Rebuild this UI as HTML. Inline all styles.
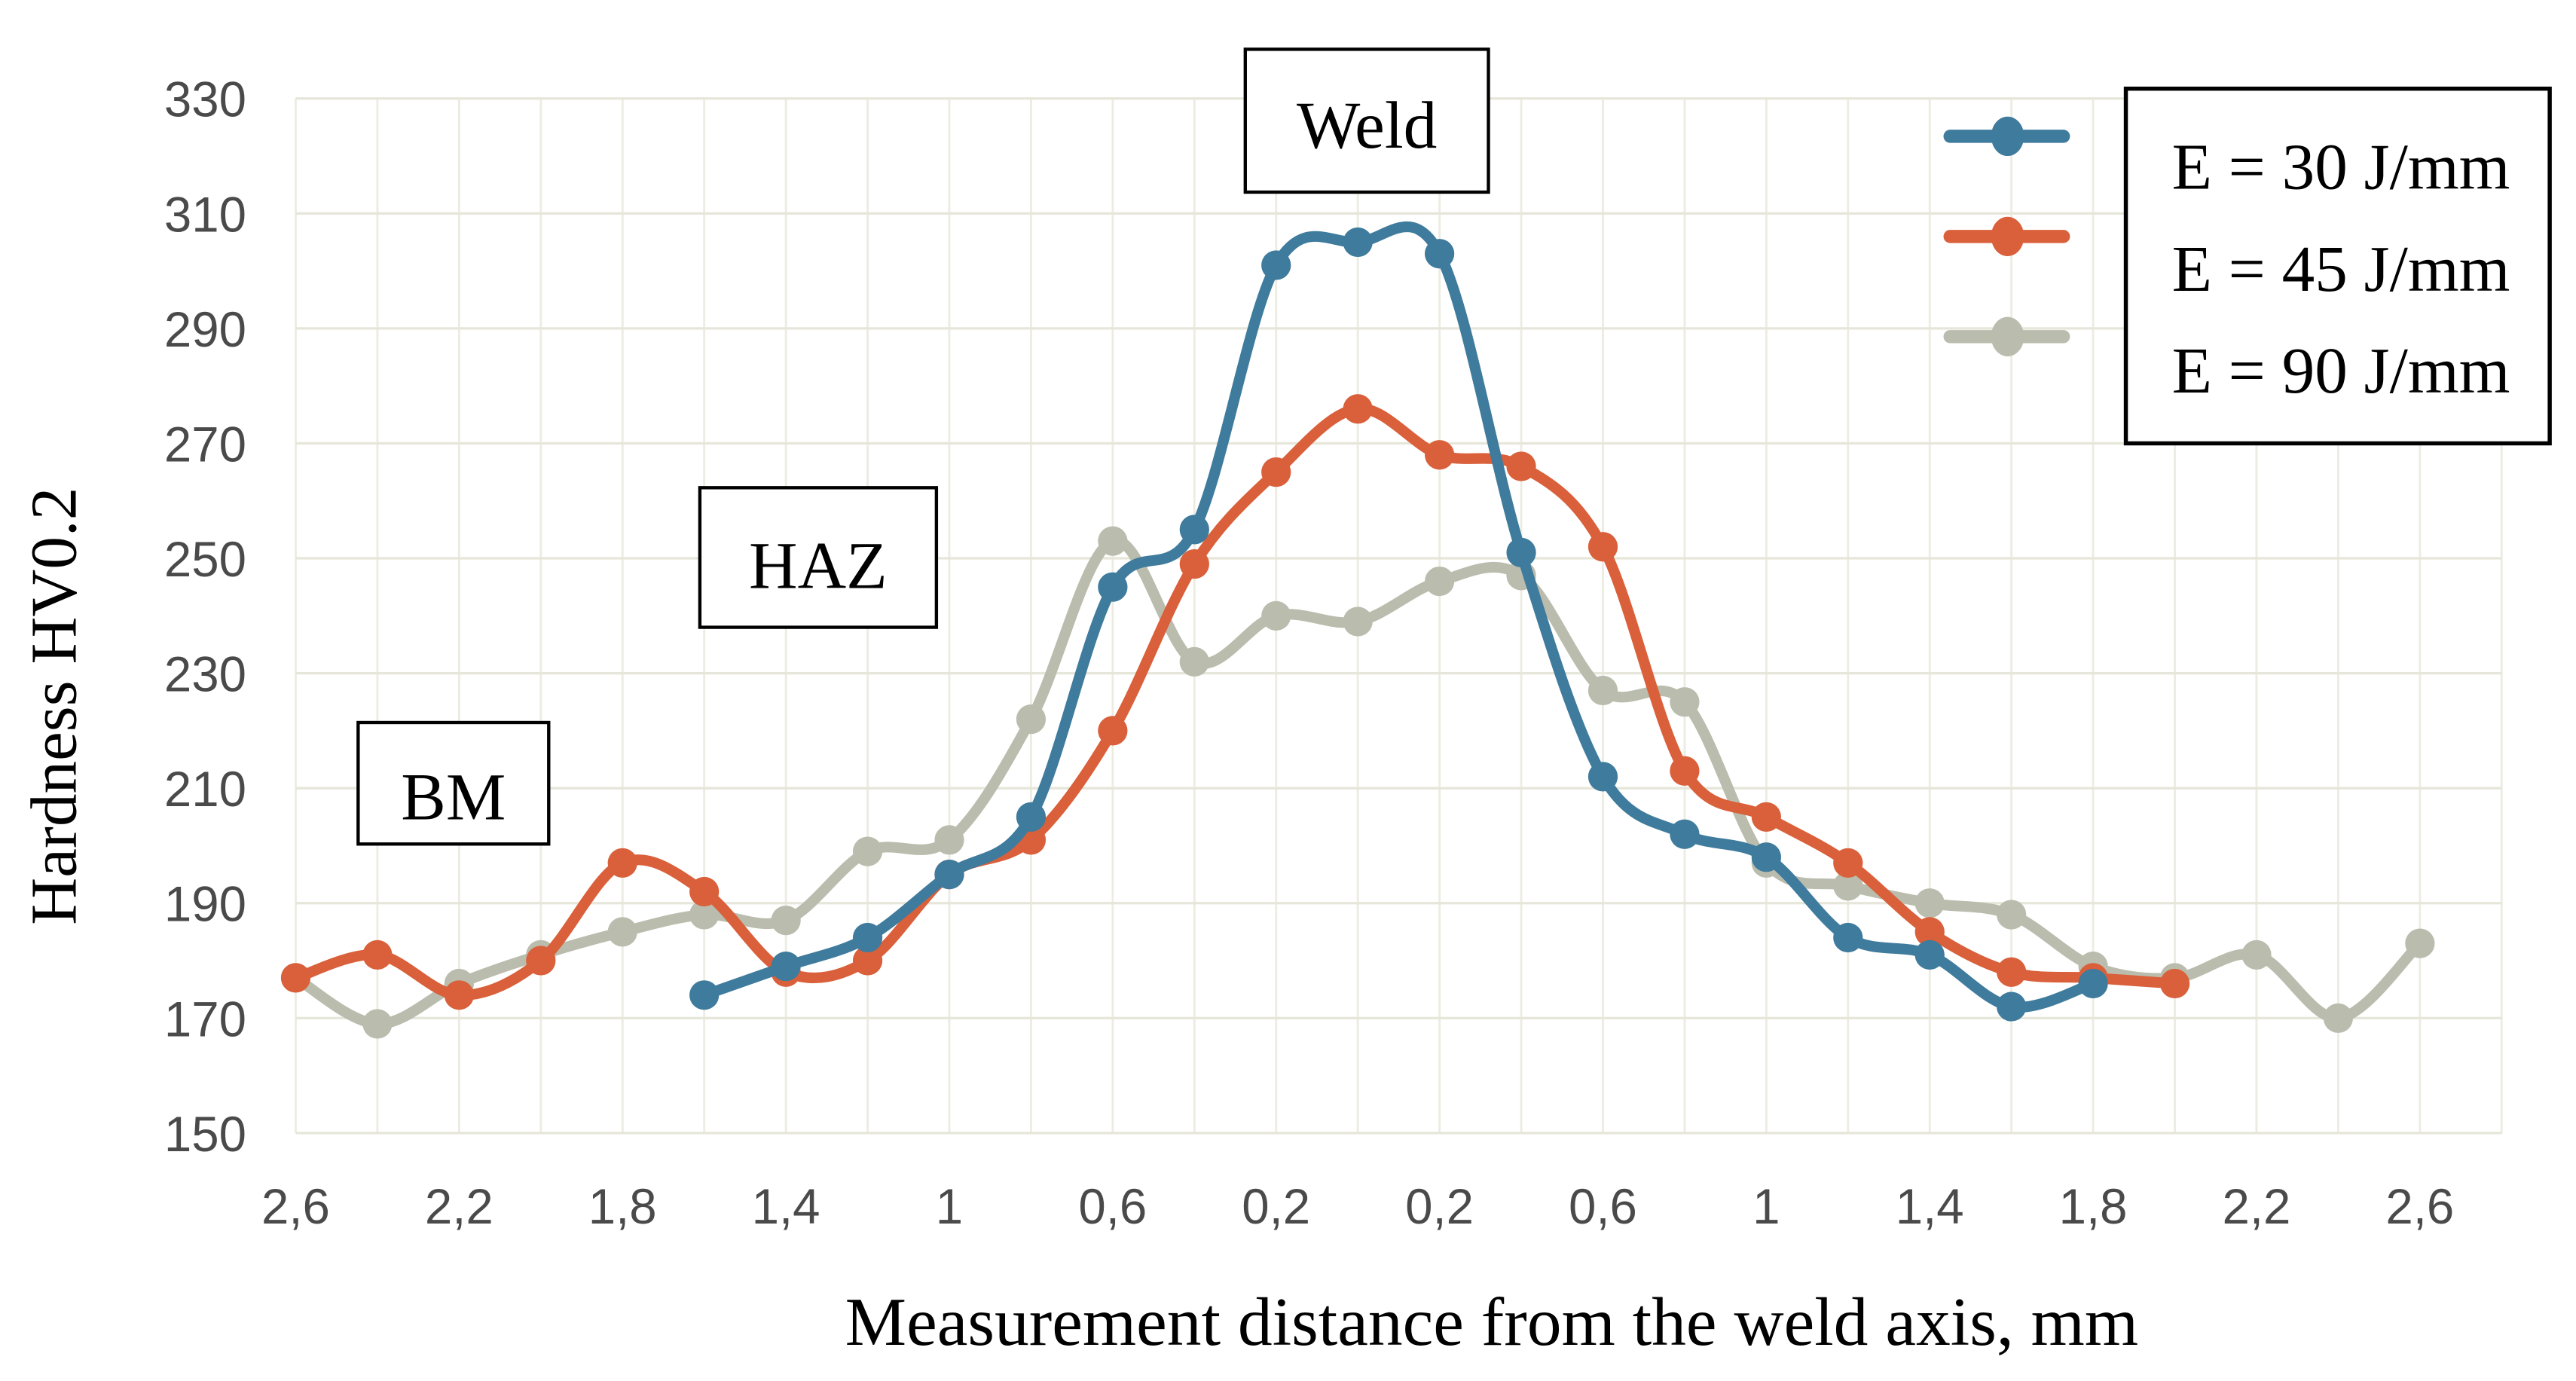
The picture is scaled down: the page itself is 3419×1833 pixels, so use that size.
<!DOCTYPE html>
<html><head><meta charset="utf-8">
<style>
html,body{margin:0;padding:0;background:#fff;}
svg{display:block;}
.tick{font-family:"Liberation Sans",sans-serif;font-size:30px;fill:#4a4a4a;}
.serif{font-family:"Liberation Serif",serif;fill:#000;}
</style></head>
<body>
<svg id="chart" width="3419" height="1833" viewBox="0 0 1568 841" preserveAspectRatio="none" xmlns="http://www.w3.org/2000/svg">
<g id="grid"></g>
<g id="yticks"></g>
<g id="xticks"></g>
<g id="series"></g>
<g><rect x="758" y="30" width="148" height="87" fill="#fff" stroke="#000" stroke-width="2"/><text class="serif" x="832" y="90" font-size="41" text-anchor="middle">Weld</text></g>
<g><rect x="426" y="297" width="144" height="85" fill="#fff" stroke="#000" stroke-width="2"/><text class="serif" x="498" y="358" font-size="41" text-anchor="middle">HAZ</text></g>
<g><rect x="218" y="440" width="116" height="74" fill="#fff" stroke="#000" stroke-width="2"/><text class="serif" x="276" y="499" font-size="41" text-anchor="middle">BM</text></g>
<g id="legend"><rect x="1294" y="54" width="258" height="216" fill="#fff" stroke="#000" stroke-width="2.5"/></g>
<text class="serif" x="46" y="430" font-size="40" text-anchor="middle" transform="rotate(-90 46 430)">Hardness HV0.2</text>
<text class="serif" x="908" y="819" font-size="42" text-anchor="middle">Measurement distance from the weld axis, mm</text>
</svg>
<script>
const xPositions = [-2.6,-2.4,-2.2,-2.0,-1.8,-1.6,-1.4,-1.2,-1.0,-0.8,-0.6,-0.4,-0.2,0,0.2,0.4,0.6,0.8,1.0,1.2,1.4,1.6,1.8,2.0,2.2,2.4,2.6];
const xTickValues = [-2.6,-2.2,-1.8,-1.4,-1.0,-0.6,-0.2,0.2,0.6,1.0,1.4,1.8,2.2,2.6];
const xTickLabels = ["2,6","2,2","1,8","1,4","1","0,6","0,2","0,2","0,6","1","1,4","1,8","2,2","2,6"];
const yTickValues = [150,170,190,210,230,250,270,290,310,330];
const seriesNames = ["E = 30 J/mm","E = 45 J/mm","E = 90 J/mm"];
const seriesColors = ["#3f7b9c","#d9603a","#babdad"];
const e30 = [null,null,null,null,null,174,179,184,195,205,245,255,301,305,303,251,212,202,198,184,181,172,176,null,null,null,null];
const e45 = [177,181,174,180,197,192,178,180,195,201,220,249,265,276,268,266,252,213,205,197,185,178,177,176,null,null,null];
const e90 = [177,169,176,181,185,188,187,199,201,222,253,232,240,239,246,247,227,225,197,193,190,188,179,177,181,170,183];

const NS="http://www.w3.org/2000/svg";
const X0=180,X1=1473,Y0=690,Y1=60;
function xs(v){return X0+(v+2.6)/5.2*(X1-X0);}
function ys(v){return Y0-(v-150)/180*(Y0-Y1);}
function mk(tag,attrs,parent){const e=document.createElementNS(NS,tag);for(const k in attrs)e.setAttribute(k,attrs[k]);parent.appendChild(e);return e;}

const grid=document.getElementById('grid');
for(let i=0;i<=27;i++){const x=X0+i*(X1-X0)/26;
 const l=mk('line',{x1:x,x2:x,y1:Y1,y2:Y0,stroke:'#ecece2','stroke-width':1.3},grid);
 
 }
yTickValues.forEach(v=>{const l=mk('line',{x1:X0,x2:1523,y1:ys(v),y2:ys(v),stroke:'#e6e6da','stroke-width':1.5},grid);
 
 });

const yt=document.getElementById('yticks');
yTickValues.forEach(v=>{const t=mk('text',{x:150,y:ys(v)+11,'text-anchor':'end',class:'tick'},yt);t.textContent=v;
 
 });
const xt=document.getElementById('xticks');
xTickValues.forEach((v,i)=>{const t=mk('text',{x:xs(v),y:745,'text-anchor':'middle',class:'tick'},xt);t.textContent=xTickLabels[i];
 
 });

function smoothPath(pts){let d='M'+pts[0][0]+','+pts[0][1];
 for(let i=0;i<pts.length-1;i++){const p0=pts[i-1]||pts[i],p1=pts[i],p2=pts[i+1],p3=pts[i+2]||p2;const t=6;
  d+=' C'+(p1[0]+(p2[0]-p0[0])/t)+','+(p1[1]+(p2[1]-p0[1])/t)+' '+(p2[0]-(p3[0]-p1[0])/t)+','+(p2[1]-(p3[1]-p1[1])/t)+' '+p2[0]+','+p2[1];}
 return d;}
const sg=document.getElementById('series');
const allSeries=[e30,e45,e90];
const keys=['e30','e45','e90'];
[2,1,0].forEach(si=>{const data=allSeries[si];const pts=[];
 data.forEach((v,i)=>{if(v!==null)pts.push([xs(xPositions[i]),ys(v)]);});
 const g=mk('g',{},sg);
 
 
 const p=mk('path',{d:smoothPath(pts),fill:'none',stroke:seriesColors[si],'stroke-width':6.5,'stroke-linejoin':'round','stroke-linecap':'round'},g);
 
 
 pts.forEach(q=>{const c=mk('circle',{cx:q[0],cy:q[1],r:9,fill:seriesColors[si]},g);
  
  });
});

const lg=document.getElementById('legend');
seriesNames.forEach((n,i)=>{const y=83+i*61;
 const g=mk('g',{},lg);
 
 
 mk('line',{x1:1187,x2:1256,y1:y,y2:y,stroke:seriesColors[i],'stroke-width':8,'stroke-linecap':'round'},g);
 mk('ellipse',{cx:1222,cy:y,rx:10,ry:12,fill:seriesColors[i]},g);
 const t=mk('text',{x:1322,y:115+i*62,class:'serif','font-size':40},g);t.textContent=n;});
</script>
</body></html>
